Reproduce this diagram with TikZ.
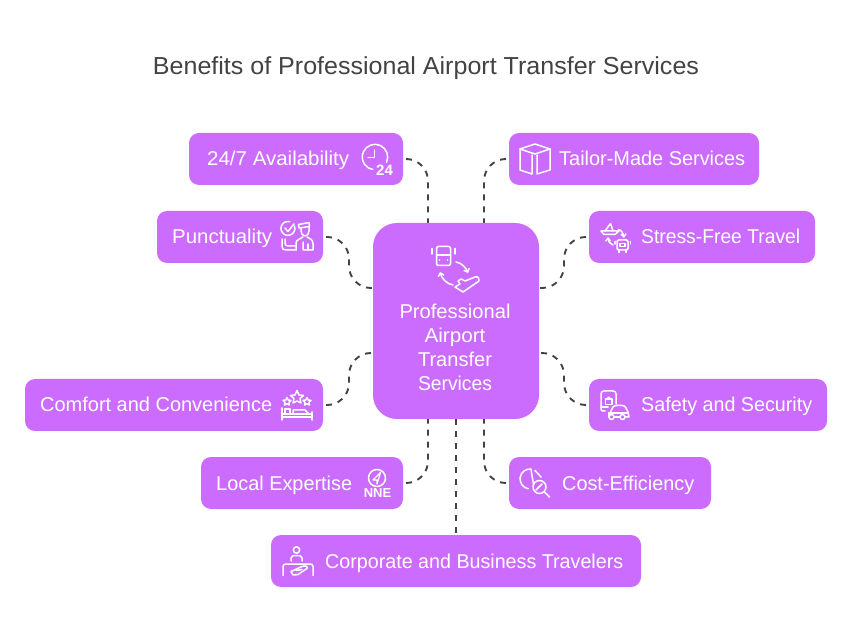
\documentclass[tikz,border=0pt]{standalone}
\usepackage{fontspec}
\usepackage{graphicx}
\usetikzlibrary{arrows.meta}
\setmainfont{Liberation Sans}
\definecolor{boxc}{HTML}{CC6CFE}
\definecolor{linec}{HTML}{434343}
\tikzset{
 x=1pt,y=-1pt,
 card/.style={fill=boxc,draw=none,rounded corners=10pt,inner sep=0pt},
 hub/.style={fill=boxc,draw=none,rounded corners=24pt,inner sep=0pt},
 lbl/.style={text=white,font=\fontsize{20}{24}\selectfont,anchor=base west,inner sep=0pt},
 hubtxt/.style={text=white,font=\fontsize{20}{24}\selectfont,anchor=base,inner sep=0pt},
 conn/.style={draw=linec,line width=1.9pt,dash pattern=on 6pt off 6pt,rounded corners=22pt},
 icon/.style={draw=white,line width=1.5pt,line cap=round,line join=round,fill=none},
 iconb/.style={text=white,inner sep=0pt,font=\bfseries},
}
\newcommand{\cardbox}[5]{\path[card] (#2,#3) rectangle (#4,#5) node[midway,inner sep=0pt] (#1) {};}
\newcommand{\fitw}[2]{\resizebox{#1pt}{\height}{#2}}
\begin{document}
\begin{tikzpicture}
\useasboundingbox (0,0) rectangle (852,636);
\fill[white] (0,0) rectangle (852,636);
\node[text=linec,font=\fontsize{24.6}{28}\selectfont,inner sep=0pt,anchor=base] (title) at (426,74.5) {\fitw{546}{Benefits of Professional Airport Transfer Services}};

% anchors on cards and hub
\coordinate (a1) at (406,159); \coordinate (h1) at (428,223);
\coordinate (a2) at (326,237); \coordinate (h2) at (373,288);
\coordinate (a3) at (326,405); \coordinate (h3) at (373,353);
\coordinate (a4) at (406,483); \coordinate (h4) at (428,419);
\coordinate (a5) at (456,535); \coordinate (h5) at (456,419);
\coordinate (a6) at (506,159); \coordinate (h6) at (484,223);
\coordinate (a7) at (586,237); \coordinate (h7) at (539,288);
\coordinate (a8) at (586,405); \coordinate (h8) at (539,353);
\coordinate (a9) at (506,483); \coordinate (h9) at (484,419);

\draw[conn] (a1) -| (h1);
\draw[conn] (a2) -- (349,237) -- (349,288) -- (h2);
\draw[conn] (a3) -- (349,405) -- (349,353) -- (h3);
\draw[conn] (a4) -| (h4);
\draw[conn] (h5) -- (a5);
\draw[conn] (a6) -| (h6);
\draw[conn] (a7) -- (564,237) -- (564,288) -- (h7);
\draw[conn] (a8) -- (564,405) -- (564,353) -- (h8);
\draw[conn] (a9) -| (h9);

\cardbox{b1}{189}{133}{403}{185}
\cardbox{b2}{157}{211}{323}{263}
\cardbox{b3}{25}{379}{323}{431}
\cardbox{b4}{201}{457}{403}{509}
\cardbox{b5}{271}{535}{641}{587}
\cardbox{b6}{509}{133}{759}{185}
\cardbox{b7}{589}{211}{815}{263}
\cardbox{b8}{589}{379}{827}{431}
\cardbox{b9}{509}{457}{711}{509}
\path[hub] (373,223) rectangle (539,419) node[midway,inner sep=0pt] (hub) {};

\node[lbl] (t1) at (207,166) {\fitw{142}{24/7 Availability}};
\node[lbl] (t2) at (172,244) {\fitw{100}{Punctuality}};
\node[lbl] (t3) at (40,412) {\fitw{232}{Comfort and Convenience}};
\node[lbl] (t4) at (216,490) {\fitw{136}{Local Expertise}};
\node[lbl] (t5) at (325,568) {\fitw{298}{Corporate and Business Travelers}};
\node[lbl] (t6) at (559,166) {\fitw{186}{Tailor-Made Services}};
\node[lbl] (t7) at (641,244) {\fitw{159}{Stress-Free Travel}};
\node[lbl] (t8) at (641,412) {\fitw{171}{Safety and Security}};
\node[lbl] (t9) at (562,490) {\fitw{132}{Cost-Efficiency}};
\node[hubtxt] (c1) at (455,319) {\fitw{111}{Professional}};
\node[hubtxt] (c2) at (455,343) {\fitw{61}{Airport}};
\node[hubtxt] (c3) at (455,367) {\fitw{74}{Transfer}};
\node[hubtxt] (c4) at (455,391) {\fitw{74}{Services}};

% clock icon
\draw[icon] (386.5,162.4) arc (25:-260:12.7);
\draw[icon] (374.5,150) -- (374.5,157.5) -- (368,157.5);
\node[iconb,font=\fontsize{15}{15}\bfseries\selectfont] (n24) at (384.5,170) {24};

% punctuality icon
\draw[icon] (294.5,226) arc (-20:285:7);
\draw[icon] (285,228) -- (288,231.5) -- (294,224);
\draw[icon] (299,228) -- (298.5,224.5) -- (309,222.5) -- (309.5,226.5) -- cycle;
\draw[icon] (301,228.5) -- (301,231) .. controls (301,234) and (303,236) .. (305,236) .. controls (307,236) and (309,234) .. (309,231) -- (309,227);
\draw[icon] (296,250) -- (296,243) .. controls (296,240) and (300,239) .. (303,237);
\draw[icon] (307,237) .. controls (310,238) and (313,240) .. (313,244) -- (313,250) -- (303,250) -- (303,242);
\draw[icon] (308,244) -- (308,250);
\draw[icon] (282,239) -- (282,246) .. controls (282,249) and (283,250) .. (286,250) -- (296,250);
\draw[icon] (285,239) -- (285,243) .. controls (285,245) and (286,246) .. (288,246) -- (296,246);

% box icon
\draw[icon] (535,144) -- (550,149) -- (535,154) -- (520,149) -- cycle;
\draw[icon] (520,149) -- (520,170) -- (532,174) -- (532,155);
\draw[icon] (550,149) -- (550,170) -- (537,174) -- (537,155);

% stress-free icon
\draw[icon] (605,231) -- (610.5,223.5) -- (613,231);
\draw[icon] (601,231) -- (619,231) -- (615,234.5) -- (604,234.5) -- cycle;
\draw[icon,-{Straight Barb[length=3pt,width=5pt]}] (618.5,229.5) .. controls (621,230) and (623.5,233) .. (624,238);
\draw[icon,-{Straight Barb[length=3pt,width=5pt]}] (613,245) .. controls (610,244) and (608,241) .. (608,237);
\draw[icon,rounded corners=1.5pt] (617,240) rectangle (628,250);
\draw[icon] (620,243.5) rectangle (625,246.5);
\draw[icon] (619,250) -- (619,252.5);
\draw[icon] (626,250) -- (626,252.5);
\draw[icon] (614.8,241.5) -- (614.8,244);
\draw[icon] (630.5,241.5) -- (630.5,244);

% hub icon
\draw[icon,rounded corners=2pt] (436.5,246.5) rectangle (450.5,265.5);
\draw[icon] (436.5,255) -- (450.5,255);
\draw[icon] (439.5,260) -- (439.6,260);
\draw[icon] (447.5,260) -- (447.6,260);
\draw[icon] (432,248.5) -- (432,254);
\draw[icon] (455,248.5) -- (455,254);
\draw[icon,-{Straight Barb[length=3pt,width=6pt]}] (456,262) .. controls (462,263) and (466,268) .. (468,273);
\draw[icon,-{Straight Barb[length=3pt,width=6pt]}] (453,285) .. controls (447,284) and (442,279) .. (440,272);
\draw[icon] (455,287) -- (460,284) -- (458,281) -- (461,279) -- (465,281) -- (475,277) .. controls (478,276) and (480,279) .. (479,281) -- (463,292) -- cycle;

% comfort icon
\draw[icon] (297,390.5) -- (299,395) -- (303.5,395.5) -- (300,398.5) -- (301,403) -- (297,401) -- (293,403) -- (294,398.5) -- (290.5,395.5) -- (295,395) -- cycle;
\draw[icon] (287,397.5) -- (288.2,400) -- (291,400.4) -- (289,402.4) -- (289.5,405) -- (287,403.7) -- (284.5,405) -- (285,402.4) -- (283,400.4) -- (285.8,400) -- cycle;
\draw[icon] (307,397.5) -- (308.2,400) -- (311,400.4) -- (309,402.4) -- (309.5,405) -- (307,403.7) -- (304.5,405) -- (305,402.4) -- (303,400.4) -- (305.8,400) -- cycle;
\draw[icon] (282,408) -- (282,420);
\draw[icon] (312,412) -- (312,420);
\draw[icon] (282,417) -- (312,417);
\draw[icon] (282,414) -- (312,414);
\draw[icon] (285,409) rectangle (290,414);
\draw[icon] (293,414) -- (293,410) -- (305,410) -- (309,414);

% compass icon
\draw[icon] (377,478) circle (8.5);
\draw[icon,line width=1.2pt] (380.5,472.5) -- (373,480) -- (377,480) -- (377,484) -- cycle;
\node[iconb,font=\fontsize{13}{13}\bfseries\selectfont] (nne) at (377.5,493.5) {NNE};

% safety icon
\draw[icon] (605,411) -- (603,411) .. controls (601.5,411) and (601,410) .. (601,409) -- (601,394) .. controls (601,392) and (602,391) .. (604,391) -- (613,391) .. controls (615,391) and (616,392) .. (616,394) -- (616,404);
\draw[icon] (601,407) -- (608,407);
\draw[icon] (605.5,399) rectangle (612,404.5);
\draw[icon] (607,399) arc (180:360:1.8);
\draw[icon] (610,413) -- (613,407) .. controls (614,406) and (615,405.5) .. (617,405.5) -- (622,405.5) .. controls (624,405.5) and (625,406) .. (626,408) -- (628,412) -- (629,417) -- (625,417);
\draw[icon] (614,417) -- (620,417);
\draw[icon] (609,417) -- (609,413) -- (628,413);
\draw[icon] (611.5,417) circle (2.5);
\draw[icon] (622.5,417) circle (2.5);

% cost icon
\draw[icon] (528.3,488.8) arc (100:275:10);
\draw[icon] (530.9,469) -- (533.5,484);
\draw[icon] (535,470.5) -- (541,477);
\draw[icon] (539.5,487) circle (6.5);
\draw[icon] (536,490) -- (542,484);
\draw[icon] (544.5,492) -- (549.5,497);

% corporate icon
\draw[icon] (296.5,550) circle (3.2);
\draw[icon] (291,561) -- (291,558) .. controls (291,556) and (293,555.5) .. (296.5,555.5) .. controls (300,555.5) and (302,556) .. (302,558) -- (302,561);
\draw[icon] (283,575.5) -- (283,566.5) .. controls (283,565) and (284,564) .. (286,564) -- (310,564) .. controls (312,564) and (313,565) .. (313,566.5) -- (313,575.5);
\draw[icon] (291,571.5) -- (302,566.5) .. controls (305,565.5) and (308,566) .. (307,568.5) -- (298,574.5) -- (293,575) -- cycle;
\draw[icon] (296,570.5) -- (302,569.5);
\end{tikzpicture}
\end{document}
